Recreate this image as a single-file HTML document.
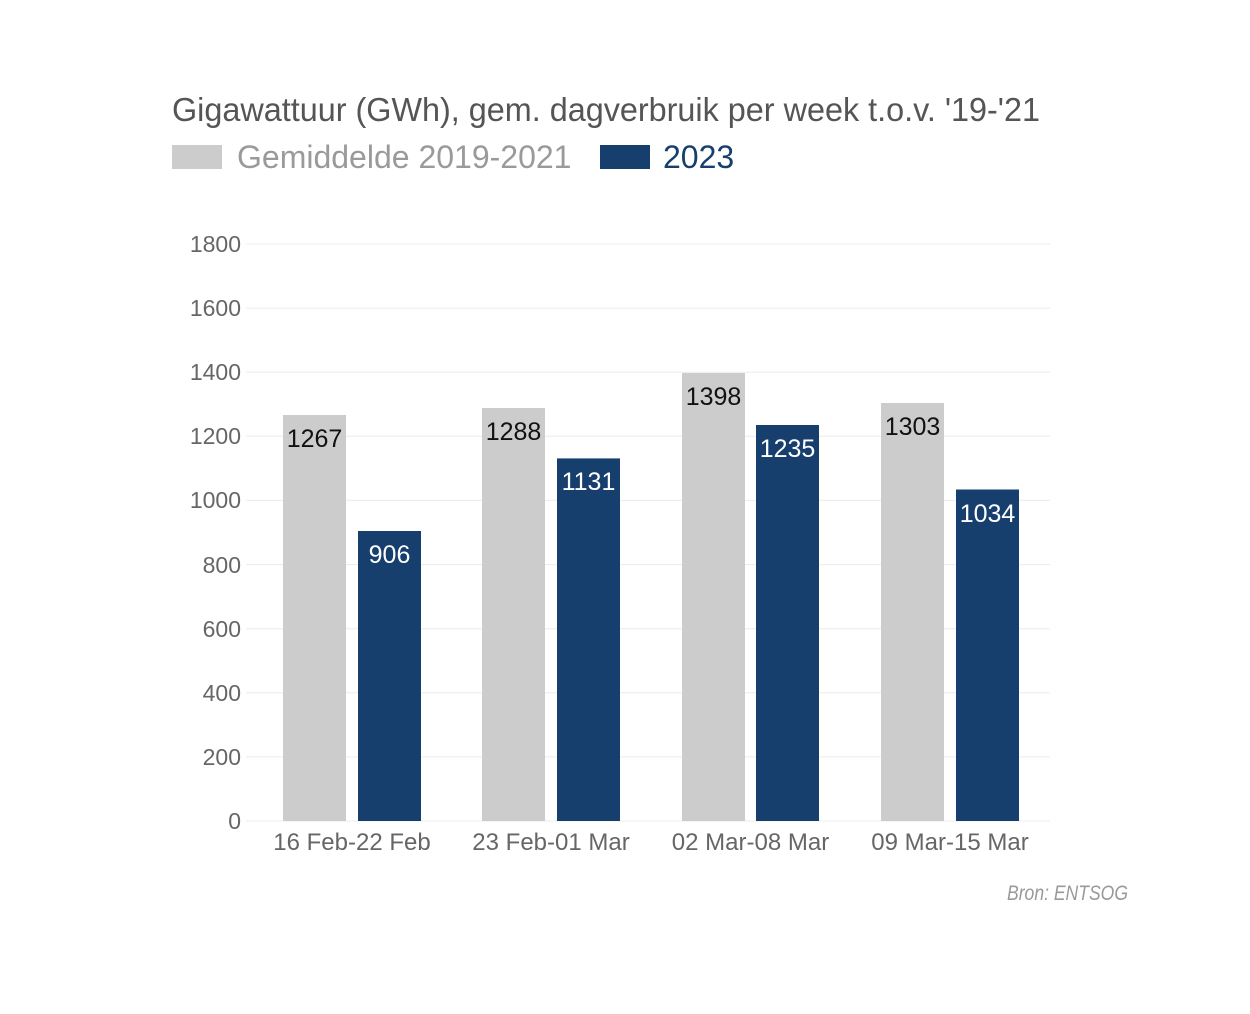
<!DOCTYPE html>
<html><head><meta charset="utf-8"><style>
html,body{margin:0;padding:0;background:#fff;}
svg{display:block;}
</style></head><body>
<svg width="1250" height="1014" xmlns="http://www.w3.org/2000/svg" font-family="Liberation Sans, sans-serif">
<rect width="1250" height="1014" fill="#fff"/>
<text x="172" y="121" font-size="33" fill="#555" textLength="868" lengthAdjust="spacingAndGlyphs">Gigawattuur (GWh), gem. dagverbruik per week t.o.v. '19-'21</text>
<rect x="172" y="145" width="50" height="24" fill="#cccccc"/>
<text x="237" y="168" font-size="32" fill="#9a9a9a">Gemiddelde 2019-2021</text>
<rect x="600" y="145" width="50" height="24" fill="#163f6e"/>
<text x="663" y="168" font-size="32" fill="#163f6e">2023</text>
<g stroke="#ececec" stroke-width="1">
<line x1="246" x2="1050" y1="244" y2="244"/><line x1="246" x2="1050" y1="308.1" y2="308.1"/>
<line x1="246" x2="1050" y1="372.2" y2="372.2"/><line x1="246" x2="1050" y1="436.3" y2="436.3"/>
<line x1="246" x2="1050" y1="500.4" y2="500.4"/><line x1="246" x2="1050" y1="564.6" y2="564.6"/>
<line x1="246" x2="1050" y1="628.7" y2="628.7"/><line x1="246" x2="1050" y1="692.8" y2="692.8"/>
<line x1="246" x2="1050" y1="756.9" y2="756.9"/><line x1="246" x2="1050" y1="821" y2="821"/>
</g>
<g font-size="23" fill="#666" text-anchor="end">
<text x="241" y="252">1800</text><text x="241" y="316">1600</text><text x="241" y="380">1400</text>
<text x="241" y="444">1200</text><text x="241" y="508">1000</text><text x="241" y="573">800</text>
<text x="241" y="637">600</text><text x="241" y="701">400</text><text x="241" y="765">200</text>
<text x="241" y="829">0</text>
</g>
<g fill="#cccccc">
<rect x="283" y="415" width="63" height="406"/>
<rect x="482" y="408" width="63" height="413"/>
<rect x="682" y="373" width="63" height="448"/>
<rect x="881" y="403" width="63" height="418"/>
</g>
<g fill="#163f6e">
<rect x="358" y="531" width="63" height="290"/>
<rect x="557" y="458.4" width="63" height="362.6"/>
<rect x="756" y="425" width="63" height="396"/>
<rect x="956" y="489.5" width="63" height="331.5"/>
</g>
<g font-size="25" text-anchor="middle">
<text x="314.5" y="447" fill="#111">1267</text>
<text x="513.5" y="440" fill="#111">1288</text>
<text x="713.5" y="405" fill="#111">1398</text>
<text x="912.5" y="435" fill="#111">1303</text>
<text x="389.5" y="563" fill="#fff">906</text>
<text x="588.5" y="490" fill="#fff">1131</text>
<text x="787.5" y="457" fill="#fff">1235</text>
<text x="987.5" y="522" fill="#fff">1034</text>
</g>
<g font-size="24" fill="#666" text-anchor="middle">
<text x="352" y="850">16 Feb-22 Feb</text>
<text x="551" y="850">23 Feb-01 Mar</text>
<text x="750.5" y="850">02 Mar-08 Mar</text>
<text x="950" y="850">09 Mar-15 Mar</text>
</g>
<text x="1007" y="900" font-size="21" font-style="italic" fill="#999" textLength="121" lengthAdjust="spacingAndGlyphs">Bron: ENTSOG</text>
</svg>
</body></html>
